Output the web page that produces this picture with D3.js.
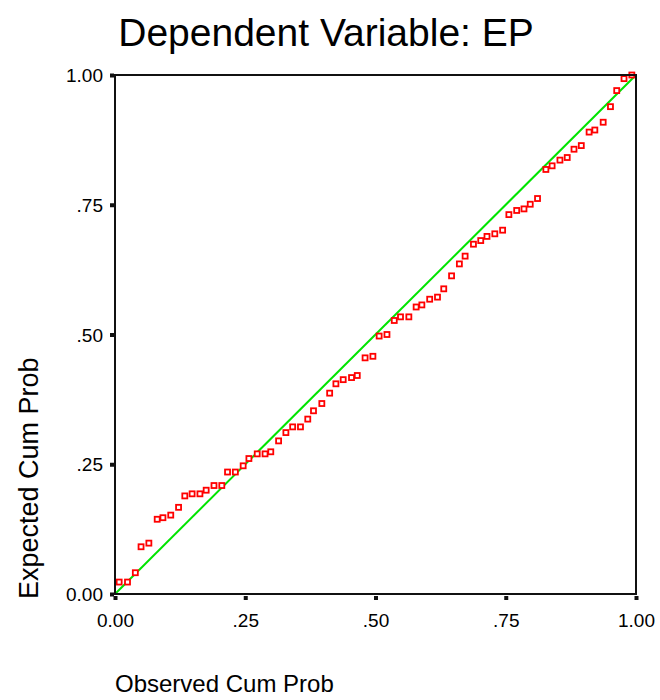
<!DOCTYPE html>
<html>
<head>
<meta charset="utf-8">
<script src="https://cdn.jsdelivr.net/npm/d3@7"></script>
<style>
  body { margin: 0; background: #fff; }
  text { font-family: "Liberation Sans", Arial, sans-serif; fill: #000; }
</style>
</head>
<body>
<div id="chart"></div>
<script>
// P-P plot of regression standardized residual
const chartTitle = "Dependent Variable: EP";
const xTitle = "Observed Cum Prob";
const yTitle = "Expected Cum Prob";
const tickValues = [0, 0.25, 0.5, 0.75, 1];
const tickLabels = ["0.00", ".25", ".50", ".75", "1.00"];

const observed = [
  0.008, 0.024, 0.039, 0.050, 0.065, 0.081, 0.092, 0.107, 0.122, 0.134,
  0.148, 0.163, 0.175, 0.190, 0.205, 0.216, 0.231, 0.246, 0.257, 0.273,
  0.288, 0.299, 0.314, 0.328, 0.341, 0.356, 0.370, 0.381, 0.397, 0.412,
  0.424, 0.438, 0.454, 0.465, 0.480, 0.495, 0.507, 0.522, 0.536, 0.548,
  0.564, 0.578, 0.589, 0.604, 0.619, 0.631, 0.646, 0.661, 0.672, 0.688,
  0.702, 0.714, 0.729, 0.744, 0.756, 0.771, 0.785, 0.797, 0.811, 0.827,
  0.839, 0.854, 0.868, 0.881, 0.895, 0.910, 0.921, 0.937, 0.951, 0.963,
  0.977, 0.992
];
const expected = [
  0.023, 0.023, 0.041, 0.091, 0.098, 0.144, 0.147, 0.152, 0.167, 0.189,
  0.193, 0.193, 0.200, 0.209, 0.209, 0.235, 0.235, 0.247, 0.261, 0.270,
  0.270, 0.274, 0.295, 0.311, 0.322, 0.322, 0.337, 0.353, 0.367, 0.387,
  0.405, 0.413, 0.417, 0.421, 0.455, 0.458, 0.497, 0.500, 0.527, 0.534,
  0.534, 0.553, 0.557, 0.568, 0.572, 0.588, 0.613, 0.636, 0.651, 0.674,
  0.681, 0.689, 0.694, 0.701, 0.731, 0.739, 0.742, 0.751, 0.762, 0.818,
  0.825, 0.836, 0.841, 0.857, 0.864, 0.890, 0.894, 0.909, 0.939, 0.970,
  0.993, 1.000
];

const width = 660, height = 700;
const margin = { top: 75, right: 24, bottom: 106, left: 115 };

const svg = d3.select("#chart").append("svg")
  .attr("width", width)
  .attr("height", height);

const x = d3.scaleLinear().domain([0, 1]).range([margin.left, width - margin.right]);
const y = d3.scaleLinear().domain([0, 1]).range([height - margin.bottom, margin.top]);

// title
svg.append("text")
  .attr("x", 326).attr("y", 46)
  .attr("text-anchor", "middle")
  .style("font-size", "39px")
  .text(chartTitle);

// diagonal reference line
svg.append("line")
  .attr("x1", x(0)).attr("y1", y(0))
  .attr("x2", x(1)).attr("y2", y(1))
  .attr("stroke", "#00e400").attr("stroke-width", 2);

// points
svg.append("g").selectAll("rect")
  .data(observed.map((d, i) => [d, expected[i]]))
  .join("rect")
  .attr("x", d => x(d[0]) - 2.5)
  .attr("y", d => y(d[1]) - 2.5)
  .attr("width", 5).attr("height", 5)
  .attr("fill", "#fff")
  .attr("stroke", "#ff0000")
  .attr("stroke-width", 1.8);

// frame
svg.append("rect")
  .attr("x", x(0)).attr("y", y(1))
  .attr("width", x(1) - x(0)).attr("height", y(0) - y(1))
  .attr("fill", "none").attr("stroke", "#111").attr("stroke-width", 2);

// axes: square tick marks, no domain
const xAxis = svg.append("g")
  .attr("transform", `translate(0,${y(0)})`)
  .call(d3.axisBottom(x).tickValues(tickValues).tickFormat((d, i) => tickLabels[i]).tickSize(0).tickPadding(20));
const yAxis = svg.append("g")
  .attr("transform", `translate(${x(0)},0)`)
  .call(d3.axisLeft(y).tickValues(tickValues).tickFormat((d, i) => tickLabels[i]).tickSize(0).tickPadding(12));

[xAxis, yAxis].forEach(g => {
  g.select(".domain").remove();
  g.selectAll("text").style("font-size", "19px").attr("fill", "#000")
    .style("font-family", "'Liberation Sans', Arial, sans-serif");
});
yAxis.selectAll("text").attr("dy", "0.35em");

xAxis.selectAll(".tick").append("rect")
  .attr("x", -2).attr("y", 2).attr("width", 4).attr("height", 4).attr("fill", "#111");
yAxis.selectAll(".tick").append("rect")
  .attr("x", -5).attr("y", -2).attr("width", 4).attr("height", 4).attr("fill", "#111");

// axis titles, start aligned like SPSS
svg.append("text")
  .attr("x", x(0)).attr("y", 692)
  .style("font-size", "24px")
  .text(xTitle);

svg.append("text")
  .attr("transform", `translate(38,599) rotate(-90)`)
  .style("font-size", "27px")
  .text(yTitle);
</script>
</body>
</html>
